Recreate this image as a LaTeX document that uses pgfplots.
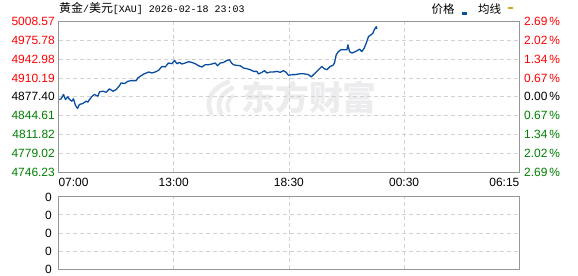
\documentclass[border=0pt]{standalone}
\usepackage{fontspec}
\setmainfont{Liberation Sans}
\newfontfamily\cjk{Noto Sans CJK SC}
\newfontfamily\mono{Liberation Mono}
\usepackage{pgfplots}
\pgfplotsset{compat=1.18}
\definecolor{upred}{RGB}{255,0,0}
\definecolor{dngreen}{RGB}{0,128,0}
\definecolor{lineblue}{RGB}{10,78,162}
\definecolor{avgorange}{RGB}{224,160,32}
\definecolor{boxgray}{RGB}{150,150,150}
\definecolor{gridgray}{RGB}{210,210,210}
\definecolor{wm}{RGB}{236,236,238}
\begin{document}
\begin{tikzpicture}
\path[use as bounding box, fill=white] (0bp,0bp) rectangle (578bp,276bp);
% watermark
\draw[wm, line width=4.5bp, line cap=round] (228bp,194bp) .. controls (212bp,188bp) and (205bp,176bp) .. (211bp,163bp);
\draw[wm, line width=4.5bp, line cap=round] (232bp,188bp) .. controls (220bp,182bp) and (216bp,172bp) .. (221bp,163bp);
\draw[wm, line width=3.5bp, line cap=round] (233bp,180bp) .. controls (227bp,176bp) and (226bp,170bp) .. (229bp,165bp);
\node[font=\cjk\bfseries\fontsize{34}{34}\selectfont, text=wm, inner sep=0pt] at (309bp,179bp) {东方财富};
% title
\node[anchor=west, inner sep=0pt] at (59bp,267.5bp) {{\cjk\fontsize{12}{12}\selectfont 黄金}{\mono\fontsize{10}{10}\selectfont /}{\cjk\fontsize{12}{12}\selectfont 美元}{\mono\fontsize{10}{10}\selectfont [XAU] 2026-02-18 23:03}};
% legend
\node[anchor=west, inner sep=0pt, font=\cjk\fontsize{11.5}{11.5}\selectfont] at (431.5bp,266.5bp) {价格};
\fill[lineblue] (462.3bp,261bp) rectangle (466.7bp,263.5bp);
\node[anchor=west, inner sep=0pt, font=\cjk\fontsize{11.5}{11.5}\selectfont] at (478bp,266.5bp) {均线};
\fill[avgorange] (508.3bp,266.5bp) rectangle (512.7bp,268.8bp);

\begin{axis}[
  at={(58.5bp,103.7bp)}, anchor=south west, scale only axis,
  width=460.8bp, height=151bp,
  xmin=0, xmax=460.8, ymin=4746.23, ymax=5008.57,
  xtick={0,115.2,230.4,345.6,460.8},
  xticklabels={\makebox[0pt][l]{07:00},13:00,18:30,00:30,\makebox[0pt][r]{06:15}},
  ytick={4746.23,4779.02,4811.82,4844.61,4877.40,4910.19,4942.98,4975.78,5008.57},
  yticklabels={\textcolor{dngreen}{4746.23},\textcolor{dngreen}{4779.02},\textcolor{dngreen}{4811.82},\textcolor{dngreen}{4844.61},4877.40,\textcolor{upred}{4910.19},\textcolor{upred}{4942.98},\textcolor{upred}{4975.78},\textcolor{upred}{5008.57}},
  major tick length=0pt,
  grid=major, grid style={gridgray, dash pattern=on 4bp off 3bp, line width=0.8bp},
  axis line style={boxgray, line width=1bp},
  tick label style={font=\fontsize{12}{12}\selectfont},
  xticklabel style={inner sep=0pt, anchor=north, yshift=-5.5bp},
  yticklabel style={inner sep=0pt, anchor=east, xshift=-3.5bp},
]
\addplot[lineblue, line width=1.3bp, line join=round] coordinates {
(0.7,4872.7)(2.7,4873.9)(5.0,4881.4)(7.0,4872.7)(9.4,4877.4)(11.0,4872.7)(13.4,4869.8)(15.0,4873.9)
(17.0,4862.4)(19.0,4857.2)(21.0,4864.1)(24.4,4865.8)(27.7,4869.8)(29.4,4868.1)(31.0,4872.7)(33.7,4878.4)
(36.0,4881.4)(39.4,4878.4)(41.0,4886.0)(44.4,4887.1)(47.7,4885.3)(51.0,4891.2)(54.4,4887.1)(57.7,4890.0)
(61.0,4896.9)(62.7,4901.6)(66.0,4900.4)(69.4,4904.3)(72.7,4905.5)(77.7,4905.5)(79.4,4910.2)(82.7,4914.2)
(86.0,4917.6)(88.0,4918.8)(90.0,4920.5)(93.4,4918.8)(96.7,4920.5)(100.0,4923.3)(103.4,4930.2)(106.7,4929.2)
(110.0,4936.1)(113.4,4934.9)(116.0,4940.6)(118.4,4934.9)(121.0,4937.1)(123.4,4934.4)(126.7,4936.1)(130.0,4938.3)
(133.4,4937.1)(136.7,4934.9)(140.0,4931.4)(143.4,4929.2)(146.7,4933.1)(150.0,4933.1)(153.4,4934.4)(156.7,4936.1)
(159.0,4931.4)(161.7,4936.1)(165.0,4937.1)(168.4,4940.6)(171.0,4941.8)(173.0,4936.1)(175.0,4933.1)(178.4,4931.9)
(181.7,4931.4)(185.0,4927.4)(188.4,4926.2)(191.7,4924.5)(195.0,4921.6)(198.4,4921.6)(200.0,4917.1)(203.4,4919.9)
(206.0,4922.8)(208.4,4918.8)(211.7,4920.5)(215.0,4920.5)(218.4,4921.6)(221.7,4919.9)(225.0,4922.8)(227.7,4919.9)
(230.0,4914.7)(233.4,4915.9)(236.7,4915.9)(240.0,4917.1)(243.4,4917.6)(246.7,4917.1)(250.0,4915.9)(252.7,4911.9)
(255.0,4915.9)(258.4,4921.6)(261.0,4926.2)(263.4,4930.2)(265.7,4926.2)(268.4,4924.5)(271.7,4930.2)(274.4,4931.9)
(276.0,4936.1)(277.7,4950.4)(280.0,4956.1)(282.4,4959.0)(285.0,4959.0)(288.4,4959.0)(289.4,4967.7)(291.0,4956.1)
(293.4,4953.3)(295.7,4955.1)(298.4,4957.3)(301.0,4960.2)(303.4,4956.1)(305.7,4961.9)(307.7,4970.6)(310.0,4982.0)
(312.4,4984.9)(314.4,4987.9)(315.7,4993.5)(317.7,4999.2)(318.4,4995.3)
};
\end{axis}

\begin{axis}[
  at={(58.5bp,103.7bp)}, anchor=south west, scale only axis,
  width=460.8bp, height=151bp,
  xmin=0, xmax=460.8, ymin=0, ymax=8,
  axis x line=none, axis y line*=right,
  axis line style={draw=none},
  ytick={0,1,2,3,4,5,6,7,8},
  yticklabels={\textcolor{dngreen}{2.69\,\%},\textcolor{dngreen}{2.02\,\%},\textcolor{dngreen}{1.34\,\%},\textcolor{dngreen}{0.67\,\%},0.00\,\%,\textcolor{upred}{0.67\,\%},\textcolor{upred}{1.34\,\%},\textcolor{upred}{2.02\,\%},\textcolor{upred}{2.69\,\%}},
  major tick length=0pt,
  tick label style={font=\fontsize{12}{12}\selectfont},
  yticklabel style={inner sep=0pt, anchor=west, xshift=4.7bp},
]
\end{axis}

\begin{axis}[
  at={(58.5bp,6.7bp)}, anchor=south west, scale only axis,
  width=460.8bp, height=72.6bp,
  xmin=0, xmax=460.8, ymin=0, ymax=4,
  xtick={0,115.2,230.4,345.6,460.8}, xticklabels={},
  ytick={0,1,2,3,4}, yticklabels={0,0,0,0,0},
  major tick length=0pt,
  grid=major, grid style={gridgray, dash pattern=on 4bp off 3bp, line width=0.8bp},
  axis line style={boxgray, line width=1bp},
  tick label style={font=\fontsize{12}{12}\selectfont},
  yticklabel style={inner sep=0pt, anchor=east, xshift=-6.5bp, yshift=-0.3bp},
]
\end{axis}
\end{tikzpicture}
\end{document}
